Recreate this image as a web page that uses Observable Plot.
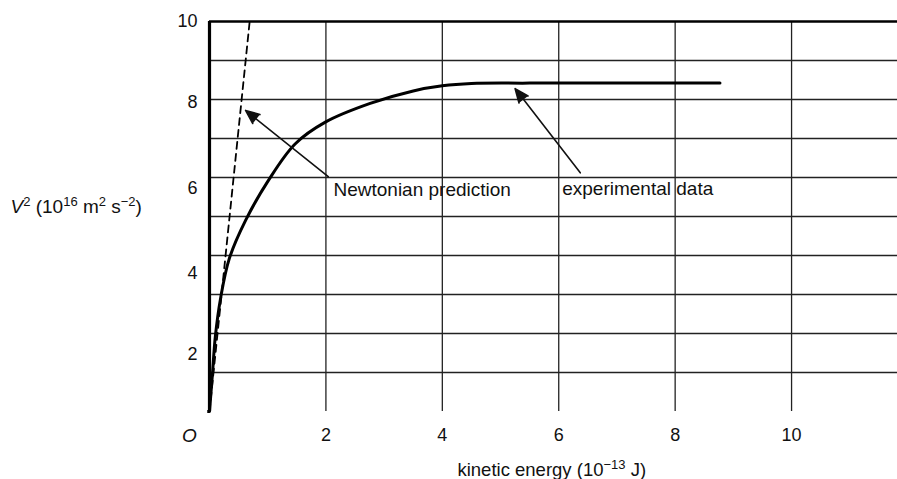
<!DOCTYPE html>
<html>
<head>
<meta charset="utf-8">
<script src="https://cdn.jsdelivr.net/npm/d3@7"></script>
<script src="https://cdn.jsdelivr.net/npm/@observablehq/plot@0.6"></script>
<style>
  html, body { margin: 0; padding: 0; background: #fff; }
  #chart { width: 897px; height: 479px; }
</style>
</head>
<body>
<div id="chart"></div>
<script>
// ---- data ----
const xTickValues = [2, 4, 6, 8, 10];
const xTickLabels = ["2", "4", "6", "8", "10"];
const yTickLabels = ["2", "4", "6", "8", "10"];
const yTickAt = [1.46, 3.54, 5.72, 7.92, 10.0];      // where the printed labels sit on the grid
const yGrid = [1, 2, 3, 4, 5, 6, 7, 8, 9];
const xGrid = [2, 4, 6, 8, 10];

const expKE = [0, 0.05, 0.10, 0.19, 0.34, 0.62, 1.01, 1.47, 1.99, 2.76, 3.5, 4.0, 4.5, 5.5, 8.77];
const expV2 = [0, 0.95, 1.92, 2.9, 3.92, 4.9, 5.92, 6.86, 7.42, 7.9, 8.22, 8.35, 8.41, 8.42, 8.42];

const newtKE = [0, 0.69];
const newtV2 = [0, 10];

const noteText = ["Newtonian prediction", "experimental data"];
const noteX = [2.13, 6.06];
const noteY = [5.69, 5.72];
const arrowFromX = [2.04, 6.37];
const arrowFromY = [6.02, 6.12];
const arrowToX = [0.62, 5.25];
const arrowToY = [7.72, 8.28];

// ---- build ----
const expData = expKE.map((k, i) => ({ke: k, v2: expV2[i]}));
const newtData = newtKE.map((k, i) => ({ke: k, v2: newtV2[i]}));
const idx2 = [0, 1];

const chart = Plot.plot({
  width: 897,
  height: 479,
  marginLeft: 209,
  marginRight: 0,
  marginTop: 21,
  marginBottom: 68,
  x: {domain: [0, 11.82], axis: null},
  y: {domain: [0, 10], axis: null},
  style: {fontFamily: "'Liberation Sans', Arial, sans-serif", fontSize: "18px", background: "#fff", color: "#111"},
  marks: [
    Plot.ruleY(yGrid, {stroke: "#222", strokeWidth: 1.3}),
    Plot.ruleX(xGrid, {y1: 0, y2: 10, stroke: "#222", strokeWidth: 1.3}),
    Plot.ruleY([10], {stroke: "#000", strokeWidth: 2.6}),
    Plot.ruleX([0], {y1: 0, y2: 10, stroke: "#000", strokeWidth: 3.2}),
    Plot.ruleY([0], {x1: -0.03, stroke: "#000", strokeWidth: 3.2}),
    Plot.line(newtData, {x: "ke", y: "v2", stroke: "#000", strokeWidth: 1.8, strokeDasharray: "7,5"}),
    Plot.line(expData, {x: "ke", y: "v2", stroke: "#000", strokeWidth: 3, curve: "catmull-rom"}),
    Plot.arrow(idx2, {
      x1: i => arrowFromX[i], y1: i => arrowFromY[i],
      x2: i => arrowToX[i], y2: i => arrowToY[i],
      stroke: "#111", strokeWidth: 1.6, headLength: 14, headAngle: 45,
      className: "note-arrow"
    }),
    Plot.text(idx2, {
      x: i => noteX[i], y: i => noteY[i], text: i => noteText[i],
      textAnchor: "start", fill: "#111", fontSize: 19
    }),
    // x tick labels
    Plot.text(xTickValues, {x: d => d, y: 0, text: (d, i) => xTickLabels[i], dy: 24, fill: "#111", fontSize: 18}),
    Plot.text(["O"], {x: 0, y: 0, text: d => d, dy: 24, dx: -20, fontStyle: "italic", fill: "#111", fontSize: 19}),
    // y tick labels
    Plot.text(yTickLabels, {x: 0, y: (d, i) => yTickAt[i], text: d => d, dx: -12, textAnchor: "end", fill: "#111", fontSize: 18}),
    // axis titles (content refined below)
    Plot.text(["ytitle"], {x: 0, y: 5.25, text: d => d, dx: -199, textAnchor: "start", fill: "#111", fontSize: 19, className: "ytitle"}),
    Plot.text(["xtitle"], {x: 4.26, y: 0, text: d => d, dy: 59, textAnchor: "start", fill: "#111", fontSize: 18.5, className: "xtitle"})
  ]
});

document.getElementById("chart").appendChild(chart);

// fill the arrow heads
d3.select(chart).selectAll(".note-arrow path").attr("fill", "#111");

// rich text for the axis titles
function rich(sel, parts) {
  const t = d3.select(chart).select(sel + " text");
  t.text(null);
  let shift = 0;
  for (const p of parts) {
    const ts = t.append("tspan").text(p.t);
    const target = p.sup ? -7 : 0;
    ts.attr("dy", target - shift);
    shift = target;
    if (p.sup) ts.attr("font-size", 13);
    if (p.it) ts.attr("font-style", "italic");
  }
}
rich(".ytitle", [
  {t: "V", it: true}, {t: "2", sup: true}, {t: " (10"}, {t: "16", sup: true},
  {t: " m"}, {t: "2", sup: true}, {t: " s"}, {t: "\u22122", sup: true}, {t: ")"}
]);
rich(".xtitle", [
  {t: "kinetic energy (10"}, {t: "\u221213", sup: true}, {t: " J)"}
]);
</script>
</body>
</html>
